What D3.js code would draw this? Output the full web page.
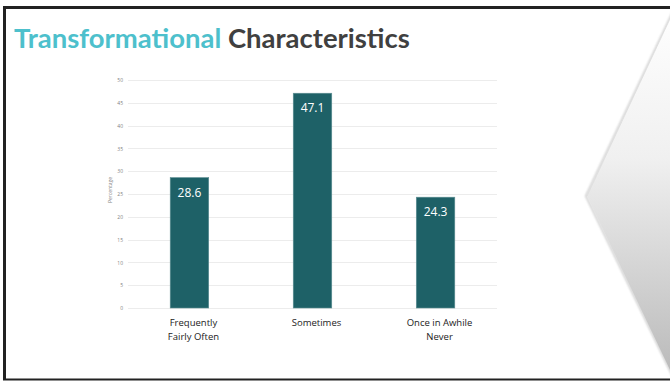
<!DOCTYPE html>
<html>
<head>
<meta charset="utf-8">
<script src="https://cdn.jsdelivr.net/npm/d3@7"></script>
<style>
  html, body { margin: 0; padding: 0; background: #fff; overflow: hidden; }
  svg { display: block; }
</style>
</head>
<body>
<div id="chart"></div>
<script>
// chart data
const categories = [["Frequently", "Fairly Often"], ["Sometimes"], ["Once in Awhile", "Never"]];
const values = [28.6, 47.1, 24.3];
const yTicks = [0, 5, 10, 15, 20, 25, 30, 35, 40, 45, 50];
const titleParts = ["Transformational", "Characteristics"];

const width = 670, height = 381;
const margin = { top: 80, right: 173, bottom: 73, left: 128 };
const innerW = width - margin.left - margin.right;
const innerH = height - margin.top - margin.bottom;

const svg = d3.select('#chart').append('svg')
  .attr('width', width)
  .attr('height', height);

// slide decoration: gradient chevron on the right
const defs = svg.append('defs');
const grad = defs.append('linearGradient')
  .attr('id', 'chev')
  .attr('gradientUnits', 'userSpaceOnUse')
  .attr('x1', 0).attr('y1', 14).attr('x2', 0).attr('y2', 374);
grad.append('stop').attr('offset', '0%').attr('stop-color', '#fefefe');
grad.append('stop').attr('offset', '40%').attr('stop-color', '#f0f0f0');
grad.append('stop').attr('offset', '100%').attr('stop-color', '#bababa');
const shadow = defs.append('filter').attr('id', 'shadow')
  .attr('filterUnits', 'userSpaceOnUse')
  .attr('x', 560).attr('y', 0).attr('width', 110).attr('height', 381);
shadow.append('feGaussianBlur').attr('stdDeviation', 0.8);

// soft edge shadow, then the fill on top
svg.append('path')
  .attr('d', 'M690,-24 L586,196 L690,412')
  .attr('fill', 'none')
  .attr('stroke', '#9a9a9a')
  .attr('stroke-width', 1.6)
  .attr('opacity', 0.6)
  .attr('filter', 'url(#shadow)');
svg.append('path')
  .attr('d', 'M690,-24 L587,196 L690,412 Z')
  .attr('fill', 'url(#chev)');
svg.append('path')
  .attr('d', 'M690,-24 L587,196')
  .attr('fill', 'none')
  .attr('stroke', '#dcdcdc')
  .attr('stroke-width', 0.8);

// slide frame
svg.append('path')
  .attr('d', 'M4.5,379.5 L4.5,7.5 L680,7.5')
  .attr('fill', 'none')
  .attr('stroke', '#222')
  .attr('stroke-width', 3);
svg.append('line')
  .attr('x1', 3).attr('x2', 680)
  .attr('y1', 379.5).attr('y2', 379.5)
  .attr('stroke', '#222')
  .attr('stroke-width', 2);

// title
const title = svg.append('text')
  .attr('x', 14)
  .attr('y', 48)
  .style('font-family', 'Lato, "Open Sans", sans-serif')
  .style('font-weight', 'bold')
  .style('font-size', '26px');
title.append('tspan').attr('fill', '#4dc0cc').text(titleParts[0]);
title.append('tspan').attr('fill', '#404040').text(' ' + titleParts[1]);
// fit title width to the slide's title box
const tw = title.node().getComputedTextLength();
title.style('font-size', (26 * 396 / tw) + 'px');

const g = svg.append('g')
  .attr('transform', `translate(${margin.left},${margin.top})`);

const x = d3.scaleBand()
  .domain(d3.range(values.length))
  .range([0, innerW])
  .paddingInner(0.687)
  .paddingOuter(0.343);

const y = d3.scaleLinear()
  .domain([0, 50])
  .range([innerH, 0]);

// gridlines
g.append('g')
  .selectAll('line')
  .data(yTicks)
  .join('line')
  .attr('x1', 0)
  .attr('x2', innerW)
  .attr('y1', d => Math.round(y(d)) + 0.5)
  .attr('y2', d => Math.round(y(d)) + 0.5)
  .attr('stroke', '#ececec')
  .attr('stroke-width', 1);

// y axis tick labels
const yAxis = g.append('g')
  .call(d3.axisLeft(y).tickValues(yTicks).tickSize(0).tickPadding(5));
yAxis.select('.domain').remove();
yAxis.selectAll('text')
  .style('font-family', '"Open Sans", sans-serif')
  .style('font-size', '5px')
  .attr('fill', '#7f7f7f');

g.append('text')
  .attr('transform', 'rotate(-90)')
  .attr('x', -110)
  .attr('y', -16)
  .attr('text-anchor', 'middle')
  .style('font-family', '"Open Sans", sans-serif')
  .style('font-size', '5px')
  .attr('fill', '#7f7f7f')
  .text('Percentage');

// bars
g.selectAll('rect.bar')
  .data(values)
  .join('rect')
  .attr('class', 'bar')
  .attr('x', (d, i) => x(i))
  .attr('y', d => y(d))
  .attr('width', x.bandwidth())
  .attr('height', d => innerH - y(d))
  .attr('fill', '#1e6167')
  .attr('stroke', '#5f8f93')
  .attr('stroke-width', 0.6);

// value labels
g.selectAll('text.val')
  .data(values)
  .join('text')
  .attr('class', 'val')
  .attr('x', (d, i) => x(i) + x.bandwidth() / 2)
  .attr('y', d => y(d) + 19)
  .attr('text-anchor', 'middle')
  .style('font-family', '"Open Sans", sans-serif')
  .style('font-size', '12px')
  .attr('fill', '#fff')
  .text(d => d.toFixed(1));

// category labels
const cat = g.selectAll('text.cat')
  .data(categories)
  .join('text')
  .attr('class', 'cat')
  .attr('x', (d, i) => x(i) + x.bandwidth() / 2 + 4)
  .attr('y', innerH + 18)
  .attr('text-anchor', 'middle')
  .style('font-family', '"Open Sans", sans-serif')
  .style('font-size', '9.5px')
  .attr('fill', '#222');
cat.selectAll('tspan')
  .data(d => d)
  .join('tspan')
  .attr('x', function () { return d3.select(this.parentNode).attr('x'); })
  .attr('dy', (d, i) => i === 0 ? 0 : 13.5)
  .text(d => d);
</script>
</body>
</html>
